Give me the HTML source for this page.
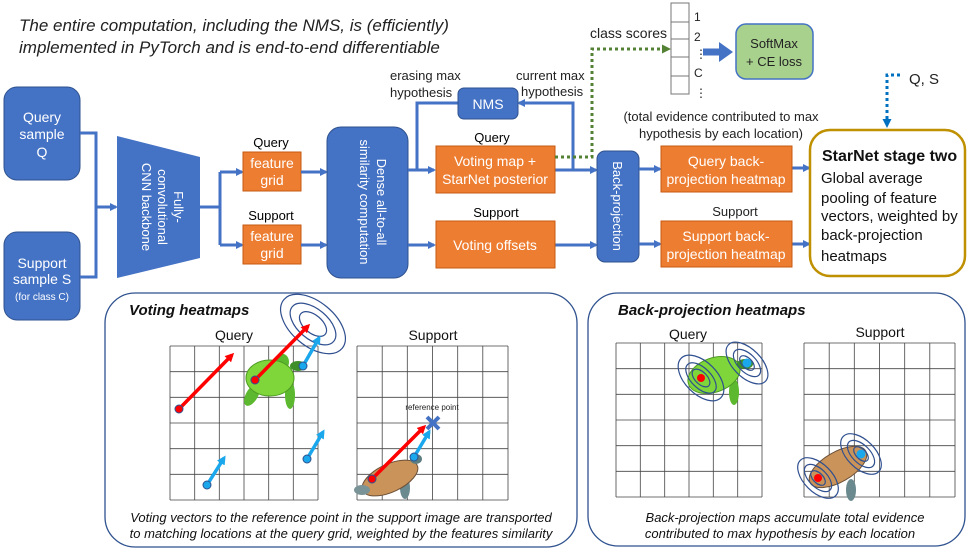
<!DOCTYPE html>
<html><head><meta charset="utf-8"><style>
html,body{margin:0;padding:0;background:#fff;}
svg{display:block;font-family:"Liberation Sans",Calibri,sans-serif;}
</style></head><body>
<svg width="969" height="550" viewBox="0 0 969 550" xmlns="http://www.w3.org/2000/svg">
<defs>
<marker id="ab" markerWidth="8" markerHeight="8" refX="6" refY="4" orient="auto" markerUnits="userSpaceOnUse"><path d="M0,0 L8,4 L0,8 z" fill="#4472C4"/></marker>
<marker id="ag" markerWidth="9" markerHeight="9" refX="7" refY="4.5" orient="auto" markerUnits="userSpaceOnUse"><path d="M0,0 L9,4.5 L0,9 z" fill="#548235"/></marker>
<marker id="al" markerWidth="9" markerHeight="9" refX="7" refY="4.5" orient="auto" markerUnits="userSpaceOnUse"><path d="M0,0 L9,4.5 L0,9 z" fill="#0070C0"/></marker>
<marker id="ar" markerWidth="9" markerHeight="9" refX="6" refY="4.5" orient="auto" markerUnits="userSpaceOnUse"><path d="M0,0 L9,4.5 L0,9 z" fill="#FF0000"/></marker>
<marker id="ac" markerWidth="9" markerHeight="9" refX="6" refY="4.5" orient="auto" markerUnits="userSpaceOnUse"><path d="M0,0 L9,4.5 L0,9 z" fill="#1AA7EC"/></marker>
</defs>

<g font-style="italic" font-size="17" fill="#222">
<text x="19" y="31">The entire computation, including the NMS, is (efficiently)</text>
<text x="19" y="53">implemented in PyTorch and is end-to-end differentiable</text>
</g>

<rect x="4" y="87" width="76" height="93" rx="13" fill="#4472C4" stroke="#2F528F"/>
<g fill="#fff" font-size="14" text-anchor="middle">
<text x="42" y="122">Query</text><text x="42" y="139">sample</text><text x="42" y="157">Q</text>
</g>
<rect x="4" y="232" width="76" height="88" rx="13" fill="#4472C4" stroke="#2F528F"/>
<g fill="#fff" text-anchor="middle">
<text x="42" y="268" font-size="14">Support</text><text x="42" y="284" font-size="14">sample S</text><text x="42" y="300" font-size="10">(for class C)</text>
</g>
<g stroke="#4472C4" stroke-width="3" fill="none">
<polyline points="80,133 96,133 96,277 80,277"/>
<line x1="96" y1="207" x2="116" y2="207" marker-end="url(#ab)"/>
</g>
<polygon points="117,136 200,157 200,258 117,278" fill="#4472C4"/>
<g fill="#fff" font-size="13" text-anchor="middle" transform="translate(158,207) rotate(90)">
<text x="0" y="-16">Fully-</text><text x="0" y="0">convolutional</text><text x="0" y="16">CNN backbone</text>
</g>
<g stroke="#4472C4" stroke-width="3" fill="none">
<polyline points="200,207 220,207"/>
<polyline points="220,172 220,245"/>
<line x1="220" y1="172" x2="242" y2="172" marker-end="url(#ab)"/>
<line x1="220" y1="245" x2="242" y2="245" marker-end="url(#ab)"/>
</g>
<g font-size="13" text-anchor="middle">
<text x="271" y="147">Query</text><text x="271" y="220">Support</text>
</g>
<rect x="243" y="152" width="58" height="39" fill="#ED7D31" stroke="#C55A11"/>
<rect x="243" y="225" width="58" height="39" fill="#ED7D31" stroke="#C55A11"/>
<g fill="#fff" font-size="14" text-anchor="middle">
<text x="272" y="168">feature</text><text x="272" y="185">grid</text>
<text x="272" y="241">feature</text><text x="272" y="258">grid</text>
</g>
<g stroke="#4472C4" stroke-width="3" fill="none">
<line x1="301" y1="172" x2="326" y2="172" marker-end="url(#ab)"/>
<line x1="301" y1="245" x2="326" y2="245" marker-end="url(#ab)"/>
</g>
<rect x="327" y="127" width="81" height="151" rx="14" fill="#4472C4" stroke="#2F528F"/>
<g fill="#fff" font-size="13" text-anchor="middle" transform="translate(367,202) rotate(90)">
<text x="0" y="-10">Dense all-to-all</text><text x="0" y="7">similarity computation</text>
</g>
<g stroke="#4472C4" stroke-width="3" fill="none">
<polyline points="408,170 434,170" marker-end="url(#ab)"/>
<polyline points="458,103 417,103 417,170"/>
<line x1="408" y1="245" x2="434" y2="245" marker-end="url(#ab)"/>
<polyline points="555,170 596,170" marker-end="url(#ab)"/>
<polyline points="573,170 573,103 519,103" marker-end="url(#ab)"/>
<line x1="548" y1="245" x2="596" y2="245" marker-end="url(#ab)"/>
</g>
<rect x="458" y="88" width="60" height="31" rx="6" fill="#4472C4" stroke="#2F528F"/>
<text x="488" y="109" fill="#fff" font-size="14" text-anchor="middle">NMS</text>
<g font-size="13" fill="#222">
<text x="390" y="80">erasing max</text><text x="390" y="97">hypothesis</text>
<text x="516" y="80">current max</text><text x="521" y="96">hypothesis</text>
</g>
<g font-size="13" text-anchor="middle">
<text x="492" y="142">Query</text><text x="496" y="217">Support</text>
</g>
<rect x="436" y="146" width="119" height="47" fill="#ED7D31" stroke="#C55A11"/>
<rect x="436" y="221" width="119" height="47" fill="#ED7D31" stroke="#C55A11"/>
<g fill="#fff" font-size="14" text-anchor="middle">
<text x="495" y="166">Voting map +</text><text x="495" y="184">StarNet posterior</text>
<text x="495" y="250">Voting offsets</text>
</g>
<polyline points="555,157 592,157 592,49 669,49" fill="none" stroke="#548235" stroke-width="3" stroke-dasharray="3,3" marker-end="url(#ag)"/>
<text x="590" y="38" font-size="14" fill="#222">class scores</text>
<g fill="#fff" stroke="#777" stroke-width="1">
<rect x="671" y="3" width="18" height="19"/><rect x="671" y="22" width="18" height="17"/><rect x="671" y="39" width="18" height="18"/><rect x="671" y="57" width="18" height="19"/><rect x="671" y="76" width="18" height="18"/>
</g>
<g font-size="12" fill="#222">
<text x="694" y="21">1</text><text x="694" y="41">2</text><text x="695" y="58">⋮</text><text x="694" y="77">C</text><text x="695" y="97">⋮</text>
</g>
<line x1="703" y1="52" x2="720" y2="52" stroke="#4472C4" stroke-width="7"/>
<polygon points="719,42 733,52 719,62" fill="#4472C4"/>
<rect x="736" y="24" width="77" height="55" rx="10" fill="#A9D18E" stroke="#4472C4" stroke-width="1.5"/>
<g font-size="13" text-anchor="middle" fill="#222"><text x="774" y="48">SoftMax</text><text x="774" y="66">+ CE loss</text></g>
<rect x="597" y="151" width="42" height="111" rx="8" fill="#4472C4" stroke="#2F528F"/>
<text transform="translate(613,206) rotate(90)" fill="#fff" font-size="13" text-anchor="middle">Back-projection</text>
<g stroke="#4472C4" stroke-width="3" fill="none">
<line x1="639" y1="169" x2="660" y2="169" marker-end="url(#ab)"/>
<line x1="639" y1="244" x2="660" y2="244" marker-end="url(#ab)"/>
<line x1="792" y1="168" x2="809" y2="168" marker-end="url(#ab)"/>
<line x1="792" y1="244" x2="809" y2="244" marker-end="url(#ab)"/>
</g>
<g font-size="13" text-anchor="middle" fill="#222">
<text x="721" y="121">(total evidence contributed to max</text>
<text x="721" y="138">hypothesis by each location)</text>
<text x="735" y="216">Support</text>
</g>
<rect x="661" y="146" width="131" height="46" fill="#ED7D31" stroke="#C55A11"/>
<rect x="661" y="221" width="131" height="46" fill="#ED7D31" stroke="#C55A11"/>
<g fill="#fff" font-size="14" text-anchor="middle">
<text x="726" y="166">Query back-</text><text x="726" y="184">projection heatmap</text>
<text x="726" y="241">Support back-</text><text x="726" y="259">projection heatmap</text>
</g>
<polyline points="900,75 887,75 887,126" fill="none" stroke="#0070C0" stroke-width="3" stroke-dasharray="3,3" marker-end="url(#al)"/>
<text x="909" y="84" font-size="15" fill="#222">Q, S</text>
<rect x="810" y="130" width="155" height="146" rx="20" fill="#fff" stroke="#BF9000" stroke-width="2.5"/>
<text x="822" y="161" font-size="16" font-weight="bold" fill="#111">StarNet stage two</text>
<g font-size="15" fill="#111">
<text x="821" y="183">Global average</text><text x="821" y="203">pooling of feature</text><text x="821" y="221">vectors, weighted by</text><text x="821" y="240">back-projection</text><text x="821" y="261">heatmaps</text>
</g>

<rect x="105" y="293" width="472" height="254" rx="30" fill="none" stroke="#2F528F" stroke-width="1.3"/>
<rect x="588" y="293" width="377" height="253" rx="30" fill="none" stroke="#2F528F" stroke-width="1.3"/>
<text x="129" y="315" font-size="15" font-weight="bold" font-style="italic" fill="#111">Voting heatmaps</text>
<text x="618" y="315" font-size="15" font-weight="bold" font-style="italic" fill="#111">Back-projection heatmaps</text>
<g font-size="14" text-anchor="middle" fill="#111">
<text x="234" y="340">Query</text><text x="433" y="340">Support</text>
<text x="688" y="339">Query</text><text x="880" y="337">Support</text>
</g>
<g stroke="#444" stroke-width="0.8" fill="none">
<path d="M170,346h148M170,371.7h148M170,397.3h148M170,423h148M170,448.7h148M170,474.3h148M170,500h148M170,346v154M194.7,346v154M219.3,346v154M244,346v154M268.7,346v154M293.3,346v154M318,346v154"/>
<path d="M357,346h151M357,371.7h151M357,397.3h151M357,423h151M357,448.7h151M357,474.3h151M357,500h151M357,346v154M382.2,346v154M407.3,346v154M432.5,346v154M457.7,346v154M482.8,346v154M508,346v154"/>
<path d="M616,343h146M616,368.7h146M616,394.3h146M616,420h146M616,445.7h146M616,471.3h146M616,497h146M616,343v154M640.3,343v154M664.7,343v154M689,343v154M713.3,343v154M737.7,343v154M762,343v154"/>
<path d="M804,343h151M804,368.7h151M804,394.3h151M804,420h151M804,445.7h151M804,471.3h151M804,497h151M804,343v154M829.2,343v154M854.3,343v154M879.5,343v154M904.7,343v154M929.8,343v154M955,343v154"/>
</g>
<g>
<ellipse cx="252" cy="395" rx="6" ry="12" fill="#5CB82E" transform="rotate(30 252 395)"/>
<ellipse cx="290" cy="395" rx="5" ry="14" fill="#5CB82E"/>
<ellipse cx="283" cy="362" rx="6" ry="8" fill="#5CB82E"/>
<ellipse cx="270" cy="378" rx="24" ry="18" fill="#7ED63A" stroke="#4E9A23"/>
<ellipse cx="298" cy="366" rx="8" ry="5" fill="#3E8E2A"/>
</g>
<g stroke-width="1.2" fill="none" stroke="#2F4F8F">
<ellipse cx="313" cy="324" rx="38" ry="22" transform="rotate(40 313 324)"/>
<ellipse cx="313" cy="324" rx="27" ry="15" transform="rotate(40 313 324)"/>
<ellipse cx="313" cy="324" rx="16" ry="9" transform="rotate(40 313 324)"/>
</g>
<g stroke-width="3.5">
<line x1="179" y1="409" x2="232" y2="355" stroke="#FF0000" marker-end="url(#ar)"/>
<line x1="255" y1="380" x2="308" y2="326" stroke="#FF0000" marker-end="url(#ar)"/>
<line x1="303" y1="366" x2="319" y2="338" stroke="#1AA7EC" marker-end="url(#ac)"/>
<line x1="207" y1="485" x2="224" y2="458" stroke="#1AA7EC" marker-end="url(#ac)"/>
<line x1="307" y1="459" x2="323" y2="432" stroke="#1AA7EC" marker-end="url(#ac)"/>
</g>
<g stroke="#2F528F" stroke-width="1">
<circle cx="179" cy="409" r="4" fill="#FF0000"/><circle cx="255" cy="380" r="4" fill="#FF0000"/>
<circle cx="303" cy="366" r="4" fill="#1AA7EC"/><circle cx="207" cy="485" r="4" fill="#1AA7EC"/><circle cx="307" cy="459" r="4" fill="#1AA7EC"/>
</g>
<ellipse cx="405" cy="488" rx="5" ry="11" fill="#6A8A8F"/>
<ellipse cx="390" cy="478" rx="30" ry="14" fill="#C9935A" stroke="#6B5038" transform="rotate(-25 390 478)"/>
<ellipse cx="362" cy="490" rx="8" ry="5" fill="#7A9397"/>
<ellipse cx="416" cy="459" rx="6" ry="5" fill="#5E7D80"/>
<text x="432" y="410" font-size="8" text-anchor="middle" fill="#222">reference point</text>
<g stroke-width="3.5">
<line x1="372" y1="479" x2="424" y2="427" stroke="#FF0000" marker-end="url(#ar)"/>
<line x1="414" y1="457" x2="429" y2="432" stroke="#1AA7EC" marker-end="url(#ac)"/>
</g>
<path d="M427,417 L439,429 M439,417 L427,429" stroke="#4472C4" stroke-width="4"/>
<circle cx="372" cy="479" r="4" fill="#FF0000" stroke="#2F528F"/>
<circle cx="414" cy="457" r="4" fill="#1AA7EC" stroke="#2F528F"/>
<ellipse cx="734" cy="392" rx="5" ry="13" fill="#5CB82E"/>
<ellipse cx="714" cy="375" rx="27" ry="17" fill="#7ED63A" stroke="#4E9A23" transform="rotate(-20 714 375)"/>
<ellipse cx="745" cy="364" rx="8" ry="5" fill="#3E8E2A"/>
<g stroke-width="1.2" fill="none" stroke="#2F4F8F">
<ellipse cx="701" cy="378" rx="28" ry="16" transform="rotate(45 701 378)"/>
<ellipse cx="701" cy="378" rx="19" ry="10" transform="rotate(45 701 378)"/>
<ellipse cx="701" cy="378" rx="11" ry="6" transform="rotate(45 701 378)"/>
<ellipse cx="747" cy="363" rx="26" ry="14" transform="rotate(45 747 363)"/>
<ellipse cx="747" cy="363" rx="17" ry="9" transform="rotate(45 747 363)"/>
<ellipse cx="747" cy="363" rx="9" ry="5" transform="rotate(45 747 363)"/>
</g>
<circle cx="701" cy="378" r="4" fill="#FF0000"/><circle cx="747" cy="363" r="4.5" fill="#1AA7EC"/>
<ellipse cx="851" cy="490" rx="5" ry="11" fill="#6A8A8F"/>
<ellipse cx="838" cy="467" rx="32" ry="15" fill="#C9935A" stroke="#6B5038" transform="rotate(-30 838 467)"/>
<g stroke-width="1.2" fill="none" stroke="#2F4F8F">
<ellipse cx="818" cy="478" rx="25" ry="14" transform="rotate(45 818 478)"/>
<ellipse cx="818" cy="478" rx="17" ry="9" transform="rotate(45 818 478)"/>
<ellipse cx="818" cy="478" rx="9" ry="5" transform="rotate(45 818 478)"/>
<ellipse cx="861" cy="454" rx="25" ry="14" transform="rotate(45 861 454)"/>
<ellipse cx="861" cy="454" rx="17" ry="9" transform="rotate(45 861 454)"/>
<ellipse cx="861" cy="454" rx="9" ry="5" transform="rotate(45 861 454)"/>
</g>
<circle cx="818" cy="478" r="4" fill="#FF0000"/><circle cx="861" cy="454" r="4.5" fill="#1AA7EC"/>
<g font-size="13" font-style="italic" text-anchor="middle" fill="#111">
<text x="341" y="522">Voting vectors to the reference point in the support image are transported</text>
<text x="341" y="538">to matching locations at the query grid, weighted by the features similarity</text>
<text x="785" y="522">Back-projection maps accumulate total evidence</text>
<text x="780" y="538">contributed to max hypothesis by each location</text>
</g>
</svg>
</body></html>
